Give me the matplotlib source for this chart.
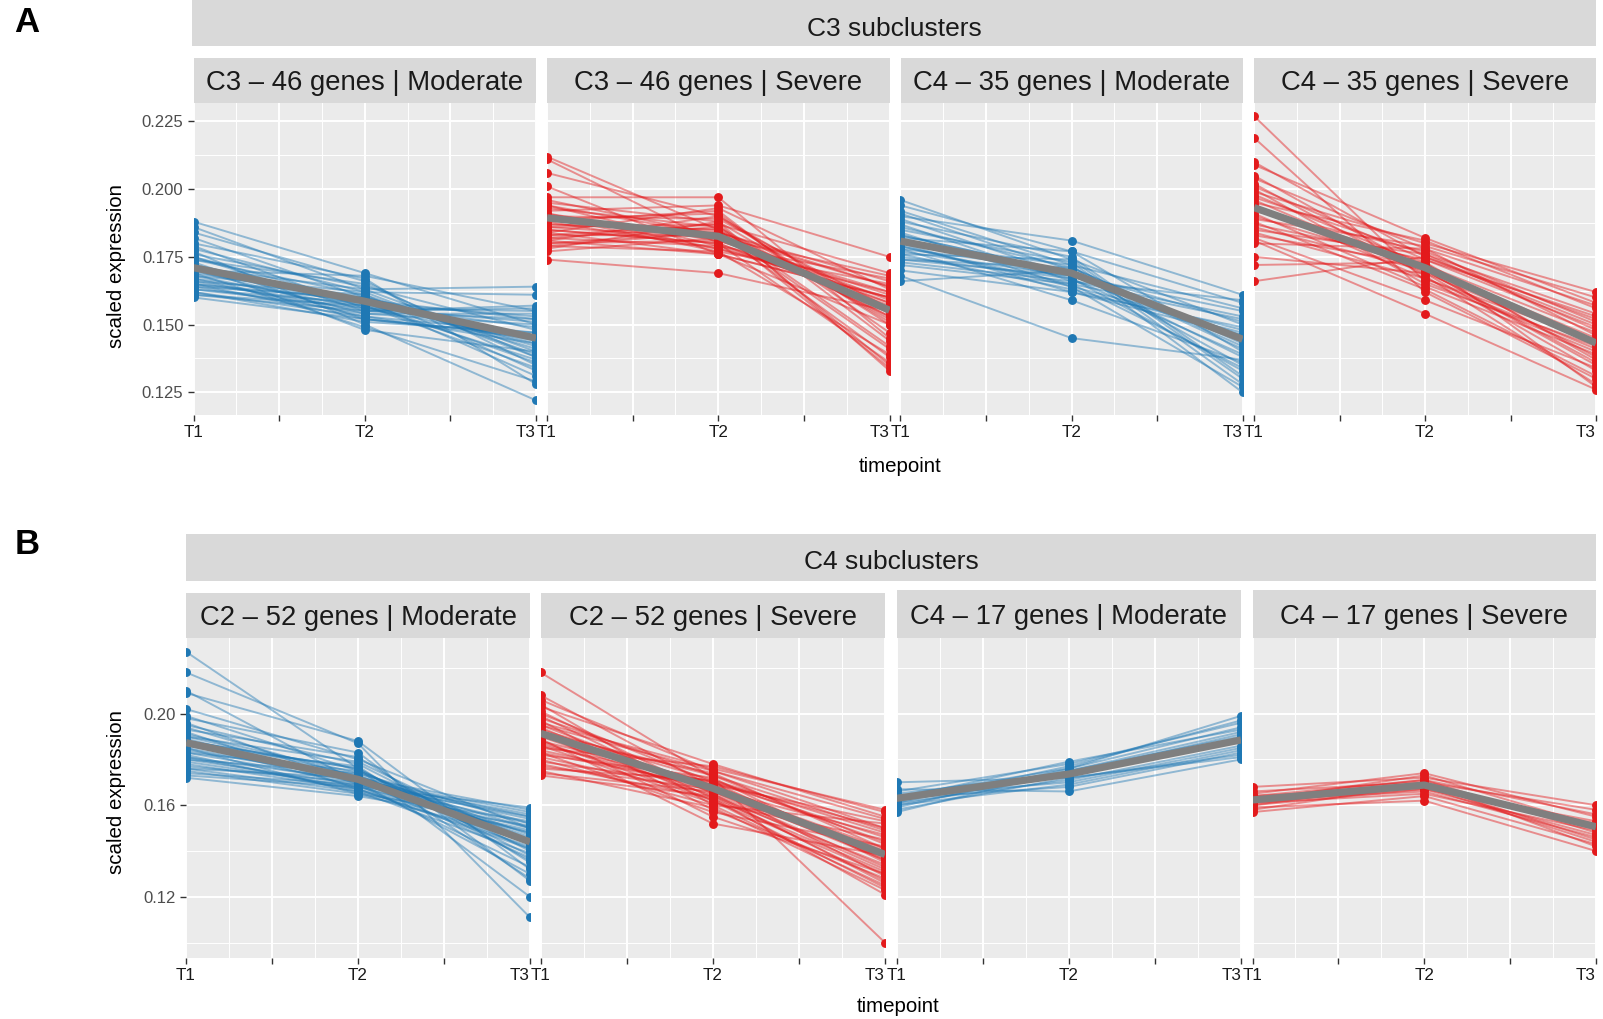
import matplotlib
matplotlib.use("Agg")
import matplotlib.pyplot as plt
import matplotlib.transforms as mtransforms
from matplotlib.patches import Rectangle

plt.rcParams['font.family'] = ['Liberation Sans', 'DejaVu Sans']

W, H = 1603, 1019
BLUE = '#1f78b4'
RED = '#e31a1c'
MEAN_GREY = '#7f7f7f'

timepoints = [1, 2, 3]
x_tick_labels = ['T1', '', 'T2', '', 'T3']

# ---- panel A: C3 subclusters ----
c3_46_mod_t1 = [0.188, 0.186, 0.184, 0.182, 0.180, 0.179, 0.178, 0.177, 0.176, 0.175, 0.175, 0.174, 0.173, 0.172,
                0.172, 0.171, 0.170, 0.170, 0.169, 0.169, 0.168, 0.168, 0.167, 0.167, 0.166, 0.166, 0.165, 0.165,
                0.165, 0.164, 0.164, 0.163, 0.163, 0.162, 0.162, 0.161, 0.161, 0.160, 0.170, 0.174]
c3_46_mod_t2 = [0.169, 0.163, 0.166, 0.160, 0.167, 0.156, 0.162, 0.150, 0.164, 0.158, 0.155, 0.161, 0.152, 0.159,
                0.148, 0.163, 0.157, 0.154, 0.160, 0.149, 0.162, 0.156, 0.158, 0.153, 0.161, 0.155, 0.159, 0.157,
                0.152, 0.160, 0.154, 0.158, 0.156, 0.153, 0.151, 0.157, 0.155, 0.152, 0.168, 0.165]
c3_46_mod_t3 = [0.150, 0.140, 0.135, 0.145, 0.128, 0.155, 0.138, 0.122, 0.148, 0.143, 0.157, 0.133, 0.146, 0.152,
                0.140, 0.164, 0.137, 0.150, 0.142, 0.129, 0.161, 0.144, 0.153, 0.147, 0.139, 0.156, 0.131, 0.149,
                0.145, 0.141, 0.154, 0.136, 0.151, 0.143, 0.147, 0.134, 0.152, 0.146, 0.155, 0.138]
c3_46_mod_mean = [0.171, 0.1586, 0.145]

c3_46_sev_t1 = [0.212, 0.211, 0.206, 0.201, 0.197, 0.196, 0.195, 0.194, 0.193, 0.192, 0.191, 0.190, 0.190, 0.189,
                0.188, 0.188, 0.187, 0.186, 0.186, 0.185, 0.184, 0.184, 0.183, 0.182, 0.182, 0.181, 0.180, 0.180,
                0.179, 0.178, 0.177, 0.174, 0.191, 0.187, 0.185, 0.183, 0.194, 0.189, 0.181, 0.179]
c3_46_sev_t2 = [0.185, 0.180, 0.190, 0.176, 0.197, 0.183, 0.188, 0.179, 0.186, 0.194, 0.181, 0.177, 0.189, 0.184,
                0.192, 0.178, 0.185, 0.182, 0.187, 0.180, 0.193, 0.176, 0.183, 0.186, 0.179, 0.190, 0.181, 0.184,
                0.177, 0.188, 0.182, 0.169, 0.178, 0.185, 0.180, 0.187, 0.183, 0.191, 0.176, 0.184]
c3_46_sev_t3 = [0.141, 0.136, 0.150, 0.160, 0.145, 0.164, 0.133, 0.158, 0.152, 0.175, 0.162, 0.139, 0.156, 0.166,
                0.144, 0.160, 0.153, 0.168, 0.135, 0.157, 0.163, 0.150, 0.159, 0.142, 0.167, 0.154, 0.161, 0.138,
                0.165, 0.151, 0.158, 0.155, 0.162, 0.134, 0.156, 0.169, 0.153, 0.147, 0.160, 0.164]
c3_46_sev_mean = [0.1894, 0.1826, 0.1553]

c4_35_mod_t1 = [0.196, 0.194, 0.192, 0.191, 0.190, 0.189, 0.188, 0.187, 0.186, 0.185, 0.184, 0.183, 0.182, 0.181,
                0.180, 0.180, 0.179, 0.178, 0.178, 0.177, 0.176, 0.176, 0.175, 0.174, 0.173, 0.172, 0.170, 0.168,
                0.166, 0.183, 0.179, 0.174]
c4_35_mod_t2 = [0.174, 0.177, 0.172, 0.170, 0.181, 0.168, 0.175, 0.166, 0.171, 0.173, 0.164, 0.169, 0.177, 0.167,
                0.162, 0.172, 0.165, 0.170, 0.159, 0.168, 0.174, 0.163, 0.167, 0.171, 0.166, 0.165, 0.162, 0.145,
                0.170, 0.169, 0.164, 0.168]
c4_35_mod_t3 = [0.150, 0.140, 0.156, 0.135, 0.161, 0.145, 0.131, 0.153, 0.143, 0.128, 0.148, 0.138, 0.158, 0.133,
                0.146, 0.125, 0.152, 0.141, 0.136, 0.155, 0.130, 0.147, 0.139, 0.144, 0.159, 0.134, 0.149, 0.137,
                0.142, 0.151, 0.127, 0.146]
c4_35_mod_mean = [0.1808, 0.169, 0.1446]

c4_35_sev_t1 = [0.227, 0.219, 0.210, 0.209, 0.205, 0.204, 0.202, 0.201, 0.200, 0.199, 0.198, 0.197, 0.196, 0.195,
                0.194, 0.193, 0.192, 0.191, 0.190, 0.189, 0.188, 0.187, 0.186, 0.185, 0.184, 0.183, 0.182, 0.181,
                0.180, 0.175, 0.172, 0.166]
c4_35_sev_t2 = [0.166, 0.162, 0.175, 0.182, 0.170, 0.178, 0.168, 0.174, 0.165, 0.180, 0.172, 0.176, 0.169, 0.181,
                0.167, 0.173, 0.177, 0.164, 0.171, 0.179, 0.163, 0.174, 0.170, 0.176, 0.167, 0.172, 0.159, 0.154,
                0.178, 0.169, 0.173, 0.175]
c4_35_sev_t3 = [0.140, 0.130, 0.150, 0.158, 0.135, 0.146, 0.128, 0.153, 0.142, 0.162, 0.138, 0.148, 0.133, 0.156,
                0.144, 0.127, 0.151, 0.139, 0.145, 0.160, 0.131, 0.149, 0.136, 0.154, 0.141, 0.147, 0.134, 0.126,
                0.157, 0.143, 0.137, 0.152]
c4_35_sev_mean = [0.1932, 0.171, 0.1432]

# ---- panel B: C4 subclusters ----
c2_52_mod_t1 = [0.227, 0.218, 0.210, 0.209, 0.202, 0.199, 0.198, 0.196, 0.195, 0.194, 0.193, 0.192, 0.191, 0.190,
                0.189, 0.188, 0.187, 0.186, 0.186, 0.185, 0.184, 0.183, 0.183, 0.182, 0.181, 0.180, 0.180, 0.179,
                0.178, 0.177, 0.176, 0.176, 0.175, 0.174, 0.173, 0.172, 0.190, 0.185, 0.181, 0.188]
c2_52_mod_t2 = [0.176, 0.187, 0.170, 0.188, 0.180, 0.175, 0.183, 0.169, 0.178, 0.172, 0.181, 0.167, 0.174, 0.179,
                0.171, 0.176, 0.168, 0.173, 0.177, 0.165, 0.172, 0.170, 0.175, 0.166, 0.171, 0.169, 0.174, 0.168,
                0.167, 0.170, 0.166, 0.172, 0.165, 0.169, 0.168, 0.164, 0.173, 0.171, 0.167, 0.176]
c2_52_mod_t3 = [0.120, 0.111, 0.130, 0.132, 0.150, 0.145, 0.127, 0.155, 0.140, 0.158, 0.135, 0.148, 0.152, 0.143,
                0.157, 0.138, 0.150, 0.146, 0.128, 0.153, 0.141, 0.156, 0.144, 0.149, 0.137, 0.152, 0.147, 0.159,
                0.142, 0.154, 0.139, 0.150, 0.145, 0.133, 0.148, 0.151, 0.144, 0.155, 0.141, 0.136]
c2_52_mod_mean = [0.1873, 0.1713, 0.144]

c2_52_sev_t1 = [0.218, 0.208, 0.206, 0.204, 0.203, 0.201, 0.200, 0.199, 0.198, 0.197, 0.196, 0.195, 0.194, 0.193,
                0.192, 0.191, 0.190, 0.190, 0.189, 0.188, 0.187, 0.186, 0.185, 0.184, 0.183, 0.182, 0.181, 0.180,
                0.179, 0.178, 0.177, 0.176, 0.175, 0.174, 0.173, 0.195, 0.188, 0.183, 0.192, 0.186]
c2_52_sev_t2 = [0.172, 0.168, 0.175, 0.160, 0.178, 0.165, 0.170, 0.163, 0.173, 0.158, 0.176, 0.167, 0.162, 0.171,
                0.155, 0.169, 0.174, 0.164, 0.152, 0.170, 0.166, 0.161, 0.177, 0.168, 0.157, 0.172, 0.165, 0.160,
                0.169, 0.163, 0.167, 0.171, 0.159, 0.166, 0.164, 0.175, 0.162, 0.168, 0.173, 0.170]
c2_52_sev_t3 = [0.100, 0.140, 0.150, 0.125, 0.155, 0.132, 0.146, 0.121, 0.143, 0.128, 0.158, 0.136, 0.124, 0.148,
                0.130, 0.153, 0.141, 0.127, 0.138, 0.150, 0.133, 0.145, 0.157, 0.129, 0.142, 0.135, 0.126, 0.152,
                0.139, 0.131, 0.147, 0.144, 0.123, 0.137, 0.134, 0.154, 0.130, 0.141, 0.149, 0.136]
c2_52_sev_mean = [0.1914, 0.1674, 0.1385]

c4_17_mod_t1 = [0.170, 0.167, 0.166, 0.165, 0.164, 0.164, 0.163, 0.163, 0.162, 0.162, 0.161, 0.161, 0.160, 0.160,
                0.159, 0.158, 0.157]
c4_17_mod_t2 = [0.172, 0.166, 0.178, 0.174, 0.170, 0.176, 0.168, 0.179, 0.173, 0.175, 0.171, 0.177, 0.174, 0.169,
                0.176, 0.172, 0.175]
c4_17_mod_t3 = [0.182, 0.180, 0.196, 0.191, 0.185, 0.199, 0.183, 0.193, 0.188, 0.190, 0.186, 0.197, 0.189, 0.184,
                0.194, 0.181, 0.192]
c4_17_mod_mean = [0.163, 0.1736, 0.1885]

c4_17_sev_t1 = [0.168, 0.166, 0.165, 0.164, 0.163, 0.163, 0.162, 0.162, 0.162, 0.161, 0.161, 0.160, 0.160, 0.159,
                0.158, 0.157, 0.164]
c4_17_sev_t2 = [0.172, 0.170, 0.174, 0.168, 0.169, 0.171, 0.167, 0.166, 0.173, 0.168, 0.165, 0.170, 0.167, 0.162,
                0.169, 0.164, 0.171]
c4_17_sev_t3 = [0.160, 0.158, 0.155, 0.152, 0.150, 0.148, 0.153, 0.146, 0.151, 0.144, 0.149, 0.142, 0.147, 0.140,
                0.145, 0.143, 0.156]
c4_17_sev_mean = [0.1623, 0.1688, 0.1506]

fig = plt.figure(figsize=(W / 100, H / 100), dpi=100)
# pixel coordinates, origin top-left
px = mtransforms.Affine2D().scale(1 / W, -1 / H).translate(0, 1) + fig.transFigure


def strip(x0, y0, x1, y1, label, size=19.8, ty=None):
    fig.add_artist(Rectangle((x0, y0), x1 - x0, y1 - y0, transform=px,
                             facecolor='#D9D9D9', edgecolor='none'))
    fig.text((x0 + x1) / 2, (y0 + y1) / 2 if ty is None else ty, label, transform=px,
             ha='center', va='center', fontsize=size, color='#1A1A1A')


def panel(box, t1, t2, t3, mean, color, ylim, yticks, yminor, first):
    x0, y0, x1, y1 = box
    ax = fig.add_axes([x0 / W, 1 - y1 / H, (x1 - x0) / W, (y1 - y0) / H])
    ax.set_facecolor('#EBEBEB')
    for s in ax.spines.values():
        s.set_visible(False)
    ax.set_xlim(1, 3)
    ax.set_ylim(*ylim)
    ax.set_xticks([1, 1.5, 2, 2.5, 3])
    ax.set_xticklabels(x_tick_labels)
    ax.set_xticks([1.25, 1.75, 2.25, 2.75], minor=True)
    ax.set_yticks(yticks)
    ax.set_yticks(yminor, minor=True)
    ax.set_axisbelow(True)
    ax.grid(which='major', color='white', lw=1.4)
    ax.grid(which='minor', color='white', lw=0.7)
    ax.tick_params(which='minor', length=0)
    ax.tick_params(which='major', length=4.3, width=1.0, color='#333333', pad=2.9)
    ax.tick_params(axis='x', labelsize=12.3, labelcolor='#1A1A1A')
    ax.tick_params(axis='y', labelsize=12, labelcolor='#4D4D4D')
    if not first:
        ax.tick_params(axis='y', length=0, labelleft=False)
    labs = ax.get_xticklabels()
    labs[4].set_ha('right')

    for a, b, c in zip(t1, t2, t3):
        ax.plot(timepoints, [a, b, c], color=color, lw=1.4, alpha=0.45, zorder=2)
    for t, vals in zip(timepoints, (t1, t2, t3)):
        ax.plot([t] * len(vals), vals, 'o', color=color, ms=6.4, mec='none', zorder=3)
    ax.plot(timepoints, mean, color=MEAN_GREY, lw=5.2, solid_capstyle='butt', zorder=4)
    return ax


# ---- row A ----
top_ylim = (0.1166, 0.232)
top_ticks = [0.125, 0.150, 0.175, 0.200, 0.225]
top_minor = [0.1375, 0.1625, 0.1875, 0.2125]
top_boxes = [(193.5, 102.5, 536, 415), (547, 102.5, 889.5, 415),
             (900.5, 102.5, 1242.5, 415), (1254, 102.5, 1596, 415)]
top_titles = ['C3 – 46 genes | Moderate', 'C3 – 46 genes | Severe',
              'C4 – 35 genes | Moderate', 'C4 – 35 genes | Severe']
top_data = [(c3_46_mod_t1, c3_46_mod_t2, c3_46_mod_t3, c3_46_mod_mean, BLUE),
            (c3_46_sev_t1, c3_46_sev_t2, c3_46_sev_t3, c3_46_sev_mean, RED),
            (c4_35_mod_t1, c4_35_mod_t2, c4_35_mod_t3, c4_35_mod_mean, BLUE),
            (c4_35_sev_t1, c4_35_sev_t2, c4_35_sev_t3, c4_35_sev_mean, RED)]

strip(192, 0, 1596, 46, 'C3 subclusters', size=19, ty=29)
for i, (box, title, d) in enumerate(zip(top_boxes, top_titles, top_data)):
    strip(box[0], 58, box[2], 102.5, title, ty=83)
    ax = panel(box, d[0], d[1], d[2], d[3], d[4], top_ylim, top_ticks, top_minor, i == 0)
    if i == 0:
        ax.set_yticklabels(['0.125', '0.150', '0.175', '0.200', '0.225'])

# ---- row B ----
bot_ylim = (0.0933, 0.233)
bot_ticks = [0.12, 0.16, 0.20]
bot_minor = [0.10, 0.14, 0.18, 0.22]
bot_boxes = [(186, 638, 530, 958), (540.5, 638, 885, 958),
             (896.5, 638, 1241, 958), (1252.5, 638, 1596, 958)]
bot_titles = ['C2 – 52 genes | Moderate', 'C2 – 52 genes | Severe',
              'C4 – 17 genes | Moderate', 'C4 – 17 genes | Severe']
bot_strip_tops = [593, 593, 590, 590]
bot_data = [(c2_52_mod_t1, c2_52_mod_t2, c2_52_mod_t3, c2_52_mod_mean, BLUE),
            (c2_52_sev_t1, c2_52_sev_t2, c2_52_sev_t3, c2_52_sev_mean, RED),
            (c4_17_mod_t1, c4_17_mod_t2, c4_17_mod_t3, c4_17_mod_mean, BLUE),
            (c4_17_sev_t1, c4_17_sev_t2, c4_17_sev_t3, c4_17_sev_mean, RED)]

strip(186, 534, 1596, 581, 'C4 subclusters', size=19, ty=562)
for i, (box, title, top, d) in enumerate(zip(bot_boxes, bot_titles, bot_strip_tops, bot_data)):
    strip(box[0], top, box[2], 638, title, ty=(top + 638) / 2 + 3)
    ax = panel(box, d[0], d[1], d[2], d[3], d[4], bot_ylim, bot_ticks, bot_minor, i == 0)
    if i == 0:
        ax.set_yticklabels(['0.12', '0.16', '0.20'])

# axis titles and panel letters
fig.text(117, 266, 'scaled expression', transform=px, rotation=90, ha='center', va='center',
         fontsize=14.8, color='black')
fig.text(117, 792, 'scaled expression', transform=px, rotation=90, ha='center', va='center',
         fontsize=14.8, color='black')
fig.text(900, 466, 'timepoint', transform=px, ha='center', va='center', fontsize=14.8, color='black')
fig.text(898, 1007, 'timepoint', transform=px, ha='center', va='center', fontsize=14.8, color='black')
fig.text(27, 22, 'A', transform=px, ha='center', va='center', fontsize=25, fontweight='bold')
fig.text(27, 545, 'B', transform=px, ha='center', va='center', fontsize=25, fontweight='bold')

fig.savefig('out.png', dpi=100, facecolor='white')
